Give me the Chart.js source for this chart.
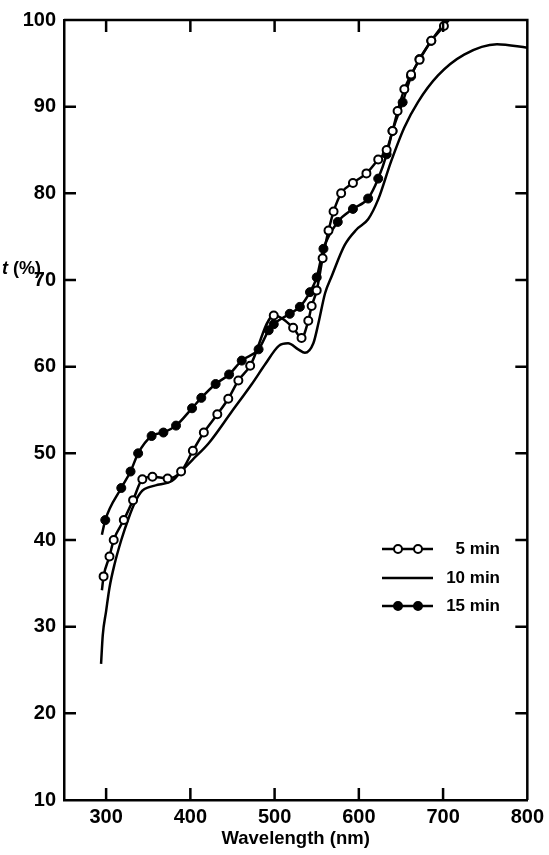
<!DOCTYPE html>
<html><head><meta charset="utf-8">
<script src="https://cdn.jsdelivr.net/npm/chart.js@4/dist/chart.umd.min.js"></script>
<style>
html,body{margin:0;padding:0;background:#fff;}
#wrap{position:relative;width:549px;height:855px;}
#ytitle{position:absolute;left:2px;top:258px;font:bold 18px "Liberation Sans",Arial,sans-serif;color:#000;white-space:nowrap;}
</style></head><body>
<div id="wrap"><canvas id="c" width="549" height="855"></canvas><div id="ytitle"><i>t</i> (%)</div></div>
<script>
const xTicks = [300, 400, 500, 600, 700, 800];
const yTicks = [10, 20, 30, 40, 50, 60, 70, 80, 90, 100];
const seriesLabels = ['5 min', '10 min', '15 min'];

const wl5 = [295, 297, 304, 309, 321, 332, 343, 355, 373, 389, 403, 416, 432, 445, 457, 471, 499, 522, 532, 540, 544, 550, 557, 564, 570, 579, 593, 609, 623, 633, 640, 646, 654, 662, 672, 686, 701, 715];
const t5  = [34.2, 35.8, 38.1, 40.0, 42.3, 44.6, 47.0, 47.3, 47.1, 47.9, 50.3, 52.4, 54.5, 56.3, 58.4, 60.1, 65.9, 64.5, 63.3, 65.3, 67.0, 68.8, 72.5, 75.7, 77.9, 80.0, 81.2, 82.3, 83.9, 85.0, 87.2, 89.5, 92.0, 93.7, 95.4, 97.6, 99.3, 101];

const wl10 = [294, 296, 300, 304, 310, 318, 327, 335, 343, 351, 363, 378, 390, 402, 422, 449, 473, 489, 505, 516, 528, 536, 546, 552, 560, 568, 583, 597, 611, 623, 638, 654, 670, 694, 725, 764, 800];
const t10  = [25.7, 29.0, 31.8, 34.5, 37.2, 40.0, 42.6, 44.5, 45.7, 46.1, 46.4, 46.8, 48.0, 49.2, 51.2, 54.8, 58.0, 60.3, 62.4, 62.7, 62.0, 61.6, 62.7, 65.0, 68.5, 70.5, 74.0, 75.8, 77.0, 79.3, 83.6, 87.6, 90.5, 93.6, 96.0, 97.2, 96.8];

const wl15 = [295, 299, 318, 329, 338, 354, 368, 383, 402, 413, 430, 446, 461, 481, 493, 499, 518, 530, 542, 550, 558, 575, 593, 611, 623, 633, 640, 652, 662, 672, 686, 712];
const t15  = [40.6, 42.3, 46.0, 47.9, 50.0, 52.0, 52.4, 53.2, 55.2, 56.4, 58.0, 59.1, 60.7, 62.0, 64.2, 64.9, 66.1, 66.9, 68.6, 70.3, 73.6, 76.7, 78.2, 79.4, 81.7, 84.5, 87.2, 90.5, 93.5, 95.5, 97.6, 101];

const FONT = '"Liberation Sans", Arial, sans-serif';
const pts = (xs, ys) => xs.map((x, i) => ({x: x, y: ys[i]}));
const endHidden = (r) => (ctx) => {
  const n = ctx.dataset.data.length;
  return (ctx.dataIndex === 0 || ctx.dataIndex === n - 1) ? 0 : r;
};

const framePlugin = {
  id: 'frame',
  afterDraw(chart) {
    const {ctx, chartArea: a, scales: {x, y}} = chart;
    ctx.save();
    ctx.strokeStyle = '#000';
    ctx.lineWidth = 2.5;
    ctx.beginPath();
    ctx.moveTo(a.left, a.top); ctx.lineTo(a.right, a.top); ctx.lineTo(a.right, a.bottom);
    ctx.stroke();
    const L = 12;
    xTicks.forEach(v => {
      const px = x.getPixelForValue(v);
      if (px >= a.right - 1) return;
      ctx.beginPath();
      ctx.moveTo(px, a.bottom); ctx.lineTo(px, a.bottom - L);
      ctx.moveTo(px, a.top); ctx.lineTo(px, a.top + L);
      ctx.stroke();
    });
    yTicks.forEach(v => {
      const py = y.getPixelForValue(v);
      if (py <= a.top + 1 || py >= a.bottom - 1) return;
      ctx.beginPath();
      ctx.moveTo(a.left, py); ctx.lineTo(a.left + L, py);
      ctx.moveTo(a.right, py); ctx.lineTo(a.right - L, py);
      ctx.stroke();
    });
    // legend
    const rows = [549, 578, 606];
    chart.data.datasets.forEach((ds, i) => {
      const ry = rows[i];
      ctx.strokeStyle = '#000';
      ctx.lineWidth = 2.5;
      ctx.beginPath(); ctx.moveTo(382, ry); ctx.lineTo(433, ry); ctx.stroke();
      if (ds.pointStyleKind !== 'none') {
        [398, 418].forEach(mx => {
          ctx.beginPath();
          ctx.arc(mx, ry, 4, 0, Math.PI * 2);
          ctx.fillStyle = ds.pointBackgroundColor;
          ctx.fill();
          ctx.lineWidth = 2;
          ctx.stroke();
        });
      }
      ctx.fillStyle = '#000';
      ctx.font = 'bold 17px ' + FONT;
      ctx.textAlign = 'right';
      ctx.textBaseline = 'middle';
      ctx.fillText(ds.label, 500, ry);
    });
    ctx.restore();
  }
};

new Chart(document.getElementById('c'), {
  type: 'scatter',
  data: {
    datasets: [
      {label: seriesLabels[0], data: pts(wl5, t5), showLine: true, borderColor: '#000', borderWidth: 2.5,
       cubicInterpolationMode: 'monotone', pointRadius: endHidden(4), pointBackgroundColor: '#fff',
       pointBorderColor: '#000', pointBorderWidth: 2, pointStyleKind: 'open'},
      {label: seriesLabels[1], data: pts(wl10, t10), showLine: true, borderColor: '#000', borderWidth: 2.5,
       cubicInterpolationMode: 'monotone', pointRadius: 0, pointBackgroundColor: '#000', pointStyleKind: 'none'},
      {label: seriesLabels[2], data: pts(wl15, t15), showLine: true, borderColor: '#000', borderWidth: 2.5,
       cubicInterpolationMode: 'monotone', pointRadius: endHidden(4.5), pointBackgroundColor: '#000',
       pointBorderColor: '#000', pointBorderWidth: 1, pointStyleKind: 'filled'}
    ]
  },
  options: {
    responsive: false,
    animation: false,
    devicePixelRatio: 1,
    layout: {padding: {top: 20, right: 19, left: 0, bottom: 0}, autoPadding: false},
    plugins: {legend: {display: false}, tooltip: {enabled: false}},
    scales: {
      x: {
        type: 'linear', min: 250, max: 800,
        afterBuildTicks: s => { s.ticks = xTicks.map(v => ({value: v})); },
        afterFit: s => { s.height = 55; },
        grid: {display: false, drawTicks: false},
        border: {display: true, width: 2.5, color: '#000'},
        ticks: {color: '#000', font: {family: FONT, size: 20, weight: 'bold'}, padding: 5, maxRotation: 0, autoSkip: false},
        title: {display: true, text: 'Wavelength (nm)', color: '#000', font: {family: FONT, size: 18.5, weight: 'bold'}, padding: {top: 0, bottom: 5}}
      },
      y: {
        type: 'linear', min: 10, max: 100,
        afterBuildTicks: s => { s.ticks = yTicks.map(v => ({value: v})); },
        afterFit: s => { s.width = 64; },
        grid: {display: false, drawTicks: false},
        border: {display: true, width: 2.5, color: '#000'},
        ticks: {color: '#000', font: {family: FONT, size: 20, weight: 'bold'}, padding: 8, autoSkip: false}
      }
    }
  },
  plugins: [framePlugin]
});
</script>
</body></html>
